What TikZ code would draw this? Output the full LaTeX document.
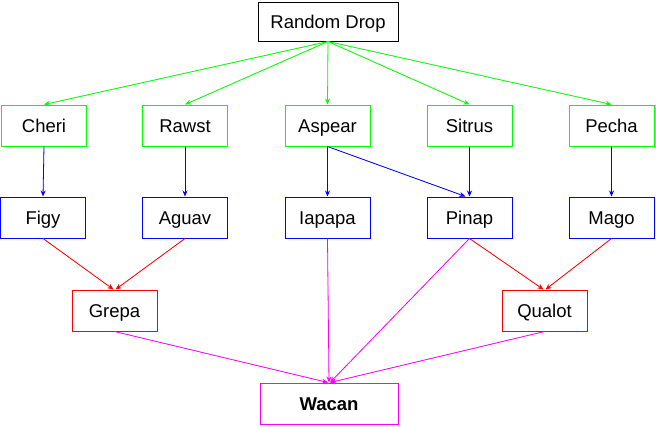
\documentclass[tikz,border=0pt]{standalone}
\usepackage{fontspec}
\setmainfont{Liberation Sans}
\usetikzlibrary{arrows.meta}
\definecolor{cgreen}{HTML}{00FF00}
\definecolor{cblue}{HTML}{0000FF}
\definecolor{cred}{HTML}{FF0000}
\definecolor{cmag}{HTML}{FF00FF}
\begin{document}
\begin{tikzpicture}[x=1pt,y=-1pt,
  box/.style={draw,line width=1pt,minimum width=85pt,minimum height=41pt,inner sep=0pt,text height=13.2pt,text depth=0pt,font=\fontsize{18.5}{20}\selectfont},
  gbox/.style={box,draw=cgreen},
  bbox/.style={box,draw=cblue},
  rbox/.style={box,draw=cred},
  arr/.style={line width=0.8pt,-{Stealth[length=6pt,width=5pt]}},
  garr/.style={arr,draw=cgreen,fill=cgreen},
  barr/.style={arr,draw=cblue,fill=cblue},
  rarr/.style={arr,draw=cred,fill=cred},
  marr/.style={arr,draw=cmag,fill=cmag}]
\useasboundingbox (0,0) rectangle (656,426);
\node[box,draw=black,minimum width=140pt,minimum height=39pt] (rd) at (328,21.5) {Random Drop};
\node[gbox] (cheri) at (44,125.5) {Cheri};
\node[gbox] (rawst) at (185,125.5) {Rawst};
\node[gbox] (aspear) at (327.5,125.5) {Aspear};
\node[gbox] (sitrus) at (469.5,125.5) {Sitrus};
\node[gbox] (pecha) at (611.5,125.5) {Pecha};
\node[bbox] (figy) at (43,217.5) {Figy};
\node[bbox] (aguav) at (185,217.5) {Aguav};
\node[bbox] (iapapa) at (327.5,217.5) {Iapapa};
\node[bbox] (pinap) at (469.5,217.5) {Pinap};
\node[bbox] (mago) at (611.5,217.5) {Mago};
\node[rbox] (grepa) at (114.5,310.5) {Grepa};
\node[rbox] (qualot) at (544.5,310.5) {Qualot};
\node[box,draw=cmag,minimum width=138pt,font=\fontsize{18.5}{20}\selectfont\bfseries] (wacan) at (329,403.5) {Wacan};
\foreach \t in {cheri,rawst,aspear,sitrus,pecha}
  \draw[garr] (rd.south) -- (\t.north);
\draw[barr] (cheri.south) -- (figy.north);
\draw[barr] (rawst.south) -- (aguav.north);
\draw[barr] (aspear.south) -- (iapapa.north);
\draw[barr] (aspear.south) -- ([xshift=-4pt]pinap.north);
\draw[barr] (sitrus.south) -- (pinap.north);
\draw[barr] (pecha.south) -- (mago.north);
\draw[rarr] (figy.south) -- ([xshift=-1pt]grepa.north);
\draw[rarr] (aguav.south) -- ([xshift=1pt]grepa.north);
\draw[rarr] (pinap.south) -- ([xshift=-1pt]qualot.north);
\draw[rarr] (mago.south) -- ([xshift=1pt]qualot.north);
\draw[marr] (grepa.south) -- ([xshift=-1pt]wacan.north);
\draw[marr] (iapapa.south) -- (wacan.north);
\draw[marr] (pinap.south) -- ([xshift=1pt]wacan.north);
\draw[marr] (qualot.south) -- ([xshift=1pt]wacan.north);
\end{tikzpicture}
\end{document}
